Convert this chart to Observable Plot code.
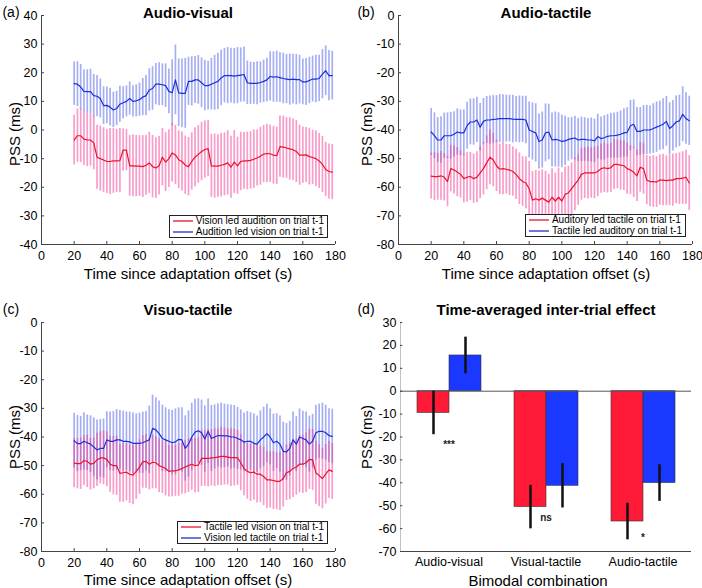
<!DOCTYPE html>
<html><head><meta charset="utf-8">
<script src="https://cdn.jsdelivr.net/npm/d3@7"></script>
<script src="https://cdn.jsdelivr.net/npm/@observablehq/plot@0.6"></script>
<style>
body{margin:0;background:#fff;}
#wrap{position:relative;width:702px;height:588px;font-family:"Liberation Sans",Arial,sans-serif;color:#000;overflow:hidden;background:#fff}
.pl{position:absolute}
.t{position:absolute;white-space:nowrap;transform:translate(-50%,-50%)}
.title{font-weight:bold;font-size:15px}
.panel{font-size:14px}
.xl{font-size:15px}
.yl{font-size:15px;transform:translate(-50%,-50%) rotate(-90deg)}
.leg{position:absolute;border:1px solid #222;background:#fff;font-size:10px;line-height:10.5px;padding:0 3px 0 3px;white-space:nowrap}
.leg svg{vertical-align:middle;margin-right:3px}
</style></head>
<body><div id="wrap"></div>
<script>
// ---------- data ----------
const timeSec = [20,22,24,26,28,30,32,34,36,38,40,42,44,46,48,50,52,54,56,58,
  60,62,64,66,68,70,72,74,76,78,80,82,84,86,88,90,92,94,96,98,
  100,102,104,106,108,110,112,114,116,118,120,122,124,126,128,130,132,134,136,138,
  140,142,144,146,148,150,152,154,156,158,160,162,164,166,168,170,172,174,176,178];

// (a) Audio-visual
const avBlueMean = [16.2,16,15,13.5,13.4,13.4,12,11.8,11,8.5,
  8.6,8,7,7.5,9,9.5,10,11,10,10.2,
  10.6,11.5,12,14,14.5,16,16,15.8,15.5,13.5,
  13,17.5,13,12.8,12.8,17,17,17.5,17.5,16.5,
  15.5,15.5,16,16.5,17,18.2,19,19,19,18.8,
  19,19.2,19.4,16.5,16.3,16.3,16.3,16.6,17,17.5,
  18.7,18.5,18.6,18.3,18,17.8,17.6,17.8,17.6,17.6,
  16.8,16.8,17.3,17.8,17.8,18,19.5,20.7,19,19];
const avBlueErr = [7.6,7.8,7.9,7.5,7.6,7.8,7.4,7.2,6.8,6.6,
  6.4,6.6,6.2,6.0,6.3,5.6,5.4,5.8,5.5,5.6,
  5.8,6.5,7.0,7.4,7.6,7.2,7.5,7.3,7.6,7.8,
  11.5,12.2,11.8,12.0,12.2,8.4,8.6,8.2,8.5,8.7,
  8.8,8.5,9.0,9.6,9.8,9.7,9.5,9.8,9.6,9.7,
  9.8,9.5,9.6,7.6,7.4,7.3,7.5,7.2,7.4,7.6,
  8.6,8.8,8.9,8.7,8.8,8.6,8.9,8.7,8.8,8.5,
  8.0,8.2,8.1,8.0,8.3,8.1,8.6,8.7,8.8,8.5];
const avRedMean = [-3.5,-2,-2,-3.2,-3.5,-3.5,-4.5,-9.5,-10,-10.5,
  -11,-11,-10.8,-10.8,-10.7,-7,-7,-12.5,-12.5,-12.6,
  -12.6,-12.8,-12.3,-11.5,-12.8,-13.3,-12.5,-9.5,-11.2,-10,
  -8,-8.7,-10.4,-11,-12.3,-12.8,-11,-9.5,-8.5,-7.5,
  -6.8,-6.5,-12.5,-12.6,-12.6,-12.3,-12,-11.5,-13,-11.2,
  -12.5,-11,-10.8,-10.8,-10.6,-10.2,-9.8,-9.2,-8.4,-8.2,
  -8.3,-8.8,-9,-5.8,-6,-6.3,-6.6,-6.9,-7.5,-8.8,
  -8.8,-8.7,-9.3,-9.6,-10,-10.8,-12,-13.8,-14.5,-14.7];
const avRedErr = [8.7,9.3,9.4,9.2,9.3,9.1,9.4,11.2,11.4,11.3,
  11.2,11.5,11.3,11.0,11.2,7.4,7.2,10.6,10.8,10.7,
  10.6,10.8,10.5,10.7,10.9,10.6,10.2,10.0,10.3,10.1,
  10.2,10.4,10.1,10.3,10.2,10.2,10.0,10.3,10.1,10.2,
  10.0,9.8,11.0,11.2,10.9,11.1,11.0,11.2,10.8,11.0,
  10.0,10.2,9.9,10.1,10.0,10.2,9.8,10.1,10.0,10.2,
  10.0,10.1,10.0,10.7,10.8,10.6,10.9,10.7,10.8,10.5,
  9.8,9.6,9.9,9.5,9.7,9.6,9.8,9.5,9.6,9.6];

// (b) Audio-tactile
const atBlueMean = [-40.7,-42,-43.5,-43.5,-42,-42,-42,-41.5,-40.7,-41,
  -41,-38.5,-37.2,-37.2,-36.5,-39,-37,-36.5,-36.5,-36.3,
  -36.2,-36,-36,-36,-36,-36.2,-36.3,-36.3,-36.3,-36.5,
  -40,-40.5,-41,-44,-43.5,-41,-40.7,-43.5,-43.3,-43.5,
  -44,-43.8,-43.3,-43,-42.8,-43.5,-43.3,-43.3,-43.5,-43.5,
  -43.8,-42.3,-43,-42.7,-42.2,-42,-42,-41.8,-41.5,-41,
  -40.8,-38.5,-38,-40.5,-40.5,-40,-40,-40,-39.5,-39,
  -38.5,-38,-37,-39.5,-38.5,-37.2,-36.8,-34.5,-36,-36.8];
const atBlueErr = [8.2,8.0,7.8,8.1,7.9,8.0,8.2,7.9,8.1,8.0,
  8.0,8.2,8.0,8.1,7.9,8.3,8.0,8.2,8.4,8.3,
  8.2,8.4,8.3,8.2,8.1,8.3,8.0,8.2,8.1,8.3,
  9.8,10.0,10.2,9.6,9.8,10.1,9.7,9.4,9.6,9.5,
  9.2,8.6,7.6,7.4,7.6,7.5,7.8,7.6,7.5,7.7,
  7.6,7.8,7.5,7.7,7.6,7.8,7.9,8.0,8.2,8.4,
  8.6,8.8,8.5,8.4,8.3,8.5,8.6,8.4,8.7,8.8,
  8.6,8.9,8.7,9.0,8.8,9.1,9.0,9.6,9.0,8.6];
const atRedMean = [-56.1,-56.3,-56.3,-56,-56.5,-58,-53.5,-54,-54.7,-55.5,
  -57,-56.5,-56.2,-57,-56.5,-55,-53.5,-51.5,-49.5,-50.5,
  -52.5,-53.7,-53.5,-53.7,-54,-54.5,-55.5,-57,-58,-58.5,
  -60.5,-64.5,-64,-64.5,-63.8,-64.5,-65.2,-63.5,-64.8,-63.5,
  -64.8,-62.5,-62,-60.5,-59,-57.5,-55.5,-55,-55,-55,
  -55,-54.5,-53.5,-53.2,-53.5,-53.2,-52,-52,-52.3,-52.5,
  -53.5,-54,-54.8,-56,-53,-53.5,-57.5,-58,-58,-58.2,
  -57.5,-57.5,-57.7,-57.5,-57.5,-57,-57,-56.8,-56.5,-58.5];
const atRedErr = [8.0,8.4,8.2,8.5,8.3,8.8,8.1,8.4,8.6,8.3,
  8.5,8.7,8.4,8.6,8.9,9.0,9.2,9.4,9.6,9.3,
  9.0,8.8,9.1,8.7,8.9,8.6,8.8,9.0,8.7,9.1,
  9.5,10.0,9.8,10.2,9.9,10.1,9.7,10.0,9.8,10.2,
  9.9,9.6,9.3,9.0,9.2,8.8,9.0,8.9,9.1,8.8,
  9.0,8.8,8.6,8.7,8.5,8.6,8.8,8.5,8.7,8.6,
  8.9,8.6,8.8,9.0,8.7,8.9,8.6,8.8,9.0,8.9,
  8.8,9.0,8.7,8.9,9.1,8.8,9.0,9.2,9.4,9.6];

// (c) Visuo-tactile
const vtBlueMean = [-41.3,-42.3,-42.3,-41.5,-42,-42.5,-43.5,-44.5,-44,-44,
  -41,-41.5,-41.5,-41,-41,-41.5,-41.5,-41.7,-42.2,-42.2,
  -42.2,-42,-41.5,-41,-37,-37.5,-38.8,-40.5,-41,-41.5,
  -42,-41.7,-40.8,-41,-44,-42.5,-40,-38.3,-37.8,-38.5,
  -40.7,-38,-40.5,-40,-39.5,-39.5,-39.6,-39.6,-40,-40,
  -40.5,-41,-41.8,-41.5,-41.5,-42.2,-42.5,-41,-40,-38.8,
  -40,-42,-41.5,-42.5,-45,-45.2,-44,-41,-42.5,-40,
  -40.5,-41,-42.5,-41.5,-38.5,-38,-38,-38.5,-39.5,-39.8];
const vtBlueErr = [9.6,9.8,9.5,10.0,9.7,9.9,10.2,10.4,10.1,10.3,
  9.8,10.2,10.4,10.6,10.3,10.5,10.2,10.4,10.6,10.3,
  10.5,10.7,10.4,11.8,11.6,11.2,11.4,11.6,11.2,11.0,
  11.3,11.5,11.0,11.2,11.4,11.6,11.8,11.5,11.2,11.4,
  11.6,11.3,11.5,11.2,11.0,11.3,11.1,10.9,11.2,11.0,
  10.8,10.5,10.2,10.4,10.0,10.3,9.8,10.1,10.4,10.2,
  9.8,10.0,9.6,9.8,10.2,9.9,9.5,9.7,9.6,9.8,
  9.5,9.7,9.8,9.4,9.6,9.5,9.8,9.6,9.4,9.5];
const vtRedMean = [-49.1,-49.3,-49.3,-48.2,-48.5,-49.5,-49.2,-48,-47.3,-47.3,
  -47.8,-49.5,-50,-50,-52.7,-52.5,-52.3,-53,-53.3,-52,
  -50.5,-48.7,-48.5,-49.5,-48.8,-49,-50,-50.5,-51,-52,
  -51.8,-51.8,-51.5,-51,-50.5,-50,-49.5,-50,-49.8,-47.5,
  -47.5,-47.5,-47.3,-47.2,-47,-46.8,-46.8,-47,-47.2,-47.2,
  -47.3,-49,-51,-52,-52.5,-52.3,-53,-53,-53.8,-55,
  -55,-55.2,-55.5,-55.5,-54.5,-52.5,-52,-51,-50.5,-49.5,
  -49.5,-49,-47.8,-48,-52.5,-53.5,-54.5,-53,-51.5,-52];
const vtRedErr = [8.6,8.8,9.0,8.7,9.2,9.0,8.9,9.3,9.1,9.4,
  9.6,9.8,10.2,10.4,10.1,10.3,10.0,10.2,10.4,9.8,
  9.5,9.2,9.4,9.0,9.3,9.1,9.4,9.2,9.6,9.0,
  9.1,8.9,9.2,9.0,9.3,9.4,9.1,9.5,9.6,9.8,
  9.7,10.0,9.8,10.1,9.9,10.2,10.0,9.8,10.1,9.9,
  9.6,9.8,9.5,9.7,10.0,9.8,10.1,9.9,10.2,10.0,
  9.8,10.1,9.9,10.2,10.0,9.7,9.9,10.1,9.8,10.0,
  10.2,10.4,10.5,10.7,11.0,10.8,10.6,10.4,10.0,9.8];

// (d) Time-averaged
const combos = ["Audio-visual","Visual-tactile","Audio-tactile"];
const redBarMean = [-9.5,-50.6,-56.9];
const redBarErr = [9.5,9.5,8.0];
const blueBarMean = [15.6,-41.3,-40.1];
const blueBarErr = [8.0,9.7,8.0];
const sigLabels = ["***","ns","*"];
const sigY = [-23.5,-55.5,-64];

const xTicks = [0,20,40,60,80,100,120,140,160,180];
const yTicksA = [-40,-30,-20,-10,0,10,20,30,40];
const yTicksBC = [-80,-70,-60,-50,-40,-30,-20,-10,0];
const yTicksD = [-70,-60,-50,-40,-30,-20,-10,0,10,20,30];

// ---------- style ----------
const FONT = '"Liberation Sans", Arial, sans-serif';
const BLUE_BAR = "#5060e8", PINK_BAR = "#f03a98";
const RED_LINE = "#e8142c", BLUE_LINE = "#1a2fd6";
const AXIS = "#444";
const TICK_LEN = 3;

function rows(means, errs){
  return timeSec.map((t,i)=>({t, m: means[i], lo: means[i]-errs[i], hi: means[i]+errs[i]}));
}

function tsPlot(o){
  const red = rows(o.redMean, o.redErr), blue = rows(o.blueMean, o.blueErr);
  const W = 351, H = 294;
  const iw = W - o.mL - o.mR, ih = H - o.mT - o.mB;
  return Plot.plot({
    width: W, height: H,
    marginLeft: o.mL, marginRight: o.mR, marginTop: o.mT, marginBottom: o.mB,
    x: {domain: [0,180]},
    y: {domain: o.ydom},
    style: {fontFamily: FONT, fontSize: "12.5px", background: "transparent", color: "#000"},
    marks: [
      Plot.ruleX(blue, {x: "t", y1: "lo", y2: "hi", stroke: BLUE_BAR, strokeWidth: 1.7, strokeOpacity: 0.5}),
      Plot.ruleX(red, {x: "t", y1: "lo", y2: "hi", stroke: PINK_BAR, strokeWidth: 1.7, strokeOpacity: 0.5}),
      Plot.lineY(red, {x: "t", y: "m", stroke: RED_LINE, strokeWidth: 1.2}),
      Plot.lineY(blue, {x: "t", y: "m", stroke: BLUE_LINE, strokeWidth: 1.2}),
      Plot.ruleX([xTicks[0]], {stroke: AXIS}),
      Plot.ruleY([o.ydom[0]], {stroke: AXIS}),
      Plot.tickX(xTicks, {x: d=>d, insetTop: ih - TICK_LEN, stroke: AXIS}),
      Plot.tickY(o.yticks, {y: d=>d, insetRight: iw - TICK_LEN, stroke: AXIS}),
      Plot.axisX({ticks: xTicks, tickFormat: d=>String(d), tickSize: 0, tickPadding: 7, label: null, fill: "#000"}),
      Plot.axisY({ticks: o.yticks, tickFormat: d=>String(d), tickSize: 0, tickPadding: 4, label: null, fill: "#000"})
    ]
  });
}

function barPlot(){
  const W = 351, H = 294, mL = 48, mR = 10, mT = 28, mB = 37;
  const facetW = (W - mL - mR) / combos.length, ih = H - mT - mB;
  const barRows = [];
  combos.forEach((c,i)=>{
    barRows.push({combo: c, cond: "r", v: redBarMean[i], lo: redBarMean[i]-redBarErr[i], hi: redBarMean[i]+redBarErr[i]});
    barRows.push({combo: c, cond: "b", v: blueBarMean[i], lo: blueBarMean[i]-blueBarErr[i], hi: blueBarMean[i]+blueBarErr[i]});
  });
  const sigRows = combos.map((c,i)=>({combo: c, label: sigLabels[i], y: sigY[i]}));
  const yTickRows = yTicksD.map(v=>({combo: combos[0], v}));
  const yDom = [yTicksD[0], yTicksD[yTicksD.length-1]];
  return Plot.plot({
    width: W, height: H,
    marginLeft: mL, marginRight: mR, marginTop: mT, marginBottom: mB,
    fx: {domain: combos, padding: 0, label: null},
    x: {domain: ["r","b"], paddingInner: 0, paddingOuter: 0.48, axis: null},
    y: {domain: yDom},
    color: {domain: ["r","b"], range: ["#ff1a37","#1a38ff"]},
    style: {fontFamily: FONT, fontSize: "12.5px", background: "transparent", color: "#000"},
    marks: [
      Plot.barY(barRows, {fx: "combo", x: "cond", y: "v", fill: "cond", stroke: "#333", strokeWidth: 0.6}),
      Plot.ruleY([0], {stroke: "#555", strokeWidth: 1}),
      Plot.ruleX(barRows, {fx: "combo", x: "cond", y1: "lo", y2: "hi", stroke: "#111", strokeWidth: 2.5}),
      Plot.text(sigRows, {fx: "combo", y: "y", text: "label", fontSize: 10, fontWeight: "bold", fill: "#222"}),
      Plot.ruleY([yDom[0]], {stroke: AXIS}),
      // left axis line (first facet only)
      Plot.rect([{combo: combos[0]}], {fx: "combo", y1: yDom[0], y2: yDom[1], insetRight: facetW - 1, fill: AXIS}),
      Plot.tickX(combos, {fx: d=>d, insetTop: ih - TICK_LEN, stroke: AXIS}),
      Plot.tickY(yTickRows, {fx: "combo", y: "v", insetRight: facetW - TICK_LEN, stroke: AXIS}),
      Plot.axisY({ticks: yTicksD, tickFormat: d=>String(d), tickSize: 0, tickPadding: 4, label: null, fill: "#000"}),
      Plot.axisFx({anchor: "bottom", tickSize: 0, tickPadding: 6, label: null, fontSize: 12.5, fill: "#000"})
    ]
  });
}

// ---------- layout ----------
const wrap = document.getElementById("wrap");
function place(svg, left, top){
  const d = document.createElement("div");
  d.className = "pl"; d.style.left = left+"px"; d.style.top = top+"px";
  d.appendChild(svg); wrap.appendChild(d);
}
function txt(cls, s, x, y){
  const d = document.createElement("div");
  d.className = "t " + cls; d.textContent = s;
  d.style.left = x+"px"; d.style.top = y+"px";
  wrap.appendChild(d);
}
function legend(items, right, top){
  const d = document.createElement("div");
  d.className = "leg"; d.style.right = right+"px"; d.style.top = top+"px";
  const NS = "http://www.w3.org/2000/svg";
  items.forEach(([color,label])=>{
    const r = document.createElement("div");
    const s = document.createElementNS(NS, "svg");
    s.setAttribute("width", "20"); s.setAttribute("height", "8");
    const l = document.createElementNS(NS, "line");
    l.setAttribute("x1", "0"); l.setAttribute("x2", "20"); l.setAttribute("y1", "4"); l.setAttribute("y2", "4");
    l.setAttribute("stroke", color); l.setAttribute("stroke-width", "1.3");
    s.appendChild(l);
    r.appendChild(s); r.appendChild(document.createTextNode(label));
    d.appendChild(r);
  });
  wrap.appendChild(d);
}

place(tsPlot({ydom: [-40,40], yticks: yTicksA, mL: 41, mR: 16, mT: 15, mB: 50,
  redMean: avRedMean, redErr: avRedErr, blueMean: avBlueMean, blueErr: avBlueErr}), 0, 0);
place(tsPlot({ydom: [-80,0], yticks: yTicksBC, mL: 47, mR: 10, mT: 15, mB: 50,
  redMean: atRedMean, redErr: atRedErr, blueMean: atBlueMean, blueErr: atBlueErr}), 351, 0);
place(tsPlot({ydom: [-80,0], yticks: yTicksBC, mL: 41, mR: 16, mT: 28, mB: 37,
  redMean: vtRedMean, redErr: vtRedErr, blueMean: vtBlueMean, blueErr: vtBlueErr}), 0, 294);
place(barPlot(), 351, 294);

txt("panel","(a)",11,12); txt("panel","(b)",366,12); txt("panel","(c)",11,309); txt("panel","(d)",366,309);
txt("title","Audio-visual",188,12); txt("title","Audio-tactile",546,12);
txt("title","Visuo-tactile",188,309); txt("title","Time-averaged inter-trial effect",546,309);
txt("yl","PSS (ms)",14,134); txt("yl","PSS (ms)",366,134);
txt("yl","PSS (ms)",14,437); txt("yl","PSS (ms)",366,437);
txt("xl","Time since adaptation offset (s)",188,273); txt("xl","Time since adaptation offset (s)",546,273);
txt("xl","Time since adaptation offset (s)",188,579); txt("xl","Bimodal combination",538,580);

legend([[RED_LINE,"Vision led audition on trial t-1"],[BLUE_LINE,"Audition led vision on trial t-1"]], 374, 215);
legend([[RED_LINE,"Auditory led tactile on trial t-1"],[BLUE_LINE,"Tactile led auditory on trial t-1"]], 16, 214);
legend([[RED_LINE,"Tactile led vision on trial t-1"],[BLUE_LINE,"Vision led tactile on trial t-1"]], 374, 521);
</script></body></html>
